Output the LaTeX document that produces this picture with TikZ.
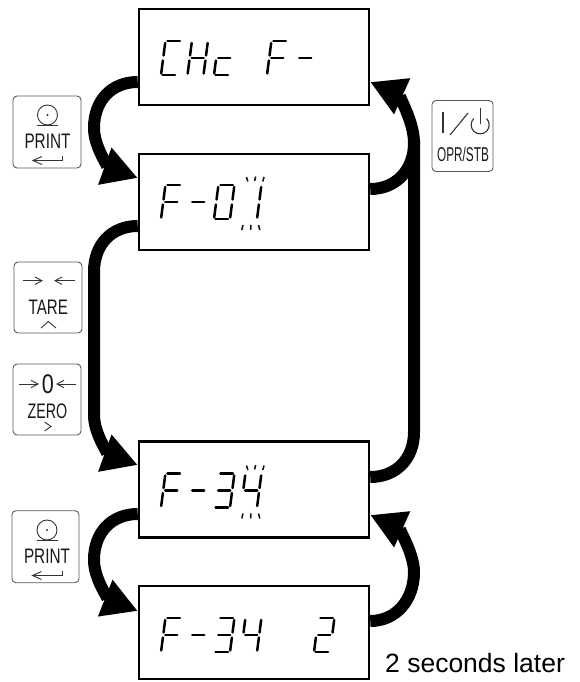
\documentclass[tikz,border=0pt]{standalone}
\usepackage{fontspec}
\setmainfont{Liberation Sans}
\usetikzlibrary{arrows.meta}
\tikzset{
  dispbox/.style={draw=black,line width=2.5pt,fill=white,minimum width=230pt,inner sep=0pt},
  keybox/.style={draw=black!65,line width=.9pt,rounded corners=4pt,inner sep=0pt,fill=white},
  flow/.style={line width=12pt,draw=black,-{Triangle[length=35pt,width=37pt]}},
  flowplain/.style={line width=12pt,draw=black},
  segline/.style={line width=2.5pt,line cap=round,draw=black},
  tick/.style={line width=1.6pt,draw=black!90},
  keyline/.style={line width=.9pt,draw=black!80},
  keytext/.style={font=\fontsize{21}{21}\selectfont,text=black!90,inner sep=0pt}
}
\newcommand\segA{\draw[segline] (2,-34)--(14.5,-34);}
\newcommand\segB{\draw[segline] (16,-32)--(16,-19.5);}
\newcommand\segC{\draw[segline] (16,-14.5)--(16,-1.5);}
\newcommand\segD{\draw[segline] (1.5,0)--(14,0);}
\newcommand\segE{\draw[segline] (0,-1.5)--(0,-14.5);}
\newcommand\segF{\draw[segline] (0,-19.5)--(0,-32);}
\newcommand\segG{\draw[segline] (2,-17)--(14,-17);}
% #1 x, #2 baseline y, #3 segments
\newcommand\digit[3]{\begin{scope}[shift={(#1,#2)},xslant=.13]#3\end{scope}}
% blinking ticks round the last digit, #1 x offset, #2 top y
\newcommand\blink[2]{\begin{scope}[shift={(#1,#2)}]
  \draw[tick] (246.5,-8)--(247.8,-3.5);
  \draw[tick] (255.6,-8.5)--(254.6,-4);
  \draw[tick] (264,-8)--(262.8,-3.5);
  \draw[tick] (243,40)--(241.8,45);
  \draw[tick] (251,40)--(250.6,45);
  \draw[tick] (258.5,40)--(259.8,45);
\end{scope}}
\begin{document}
\begin{tikzpicture}[x=1pt,y=-1pt]
\useasboundingbox (0,0) rectangle (580,682);
% display boxes
\node[dispbox,minimum height=96pt] (b1) at (254,57) {};
\node[dispbox,minimum height=96pt] (b2) at (254,202) {};
\node[dispbox,minimum height=96pt] (b3) at (254,489.5) {};
\node[dispbox,minimum height=93pt] (b4) at (254,632.5) {};
% left connectors
\draw[flow] ([yshift=-25pt]b1.west) .. controls (112,82) and (94,100) .. (94,128)
  .. controls (94,148) and (110,168) .. ([yshift=24pt]b2.west);
\draw[flow] ([yshift=-24pt]b2.west) .. controls (112,226) and (94,244) .. (94,272) -- (94,415)
  .. controls (94,435) and (110,455) .. ([yshift=24.5pt]b3.west);
\draw[flow] ([yshift=-24.5pt]b3.west) .. controls (112,514) and (94,532) .. (94,560)
  .. controls (94,580) and (110,600) .. ([yshift=21.5pt]b4.west);
% right connectors
\draw[flowplain] ([yshift=12.5pt]b3.east) .. controls (396,477) and (414,459) .. (414,432) -- (414,140);
\draw[flow] ([yshift=13pt]b2.east) .. controls (396,189) and (414,170) .. (414,143)
  .. controls (414,120) and (397,94) .. ([yshift=-25pt]b1.east);
\draw[flow] ([yshift=11.5pt]b4.east) .. controls (396,621) and (414,600) .. (414,572)
  .. controls (414,552) and (397,527) .. ([yshift=-25.5pt]b3.east);
% display 1: CHc F-
\digit{161}{75}{\segA\segD\segE\segF}
\digit{187.5}{75}{\segB\segC\segE\segF\segG}
\digit{214}{75}{\segD\segE\segG}
\digit{267}{75}{\segA\segE\segF\segG}
\digit{295}{75}{\segG}
% display 2: F-01
\digit{161}{219}{\segA\segE\segF\segG}
\digit{188}{219}{\segG}
\digit{214}{219}{\segA\segB\segC\segD\segE\segF}
\digit{241}{219}{\segB\segC}
\blink{0}{185}
% display 3: F-34
\digit{161}{507.5}{\segA\segE\segF\segG}
\digit{188}{507.5}{\segG}
\digit{214}{507.5}{\segA\segB\segC\segD\segG}
\digit{241}{507.5}{\segB\segC\segF\segG}
\blink{0}{473.5}
% display 4: F-34 2
\digit{161}{652}{\segA\segE\segF\segG}
\digit{188}{652}{\segG}
\digit{214}{652}{\segA\segB\segC\segD\segG}
\digit{241}{652}{\segB\segC\segF\segG}
\digit{314}{652}{\segA\segB\segD\segE\segG}
% PRINT key 1
\node[keybox,minimum width=68pt,minimum height=72pt] (k1) at (47,132) {};
\draw[keyline] (47.5,115) circle (10pt);
\fill[black!80] (47.5,115) circle (1.2pt);
\draw[keyline] (37,125)--(58,125);
\node[keytext,xscale=.73] (k1t) at (47.5,141.5) {PRINT};
\draw[keyline] (62.5,156)--(62.5,160.5)--(33,160.5);
\draw[keyline] (42,156.5)--(33,160.5)--(42,164.5);
% TARE key
\node[keybox,minimum width=68pt,minimum height=71pt] (k2) at (48,297.5) {};
\draw[keyline] (23,280.7)--(42,280.7); \draw[keyline] (35,277)--(42,280.7)--(35,284.4);
\draw[keyline] (55,280.7)--(75,280.7); \draw[keyline] (62,277)--(55,280.7)--(62,284.4);
\node[keytext,xscale=.72] (k2t) at (48.3,307) {TARE};
\draw[keyline] (41,328)--(48.3,321.5)--(56,328);
% ZERO key
\node[keybox,minimum width=68pt,minimum height=71pt] (k3) at (47,399.5) {};
\draw[keyline] (19,384)--(38,384); \draw[keyline] (31,380.3)--(38,384)--(31,387.7);
\draw[keyline] (57,384)--(76,384); \draw[keyline] (64,380.3)--(57,384)--(64,387.7);
\node[keytext,xscale=.8,font=\fontsize{27}{27}\selectfont] (k3z) at (48,384) {0};
\node[keytext,xscale=.68] (k3t) at (47.5,411.7) {ZERO};
\draw[keyline] (44.5,422)--(51,426.5)--(44.5,431);
% PRINT key 2
\node[keybox,minimum width=67pt,minimum height=72pt] (k4) at (45.5,546.7) {};
\draw[keyline] (47,530) circle (10pt);
\fill[black!80] (47,530) circle (1.2pt);
\draw[keyline] (36.5,540)--(57.5,540);
\node[keytext,xscale=.73] (k4t) at (47,556.5) {PRINT};
\draw[keyline] (62,571)--(62,575.5)--(32.5,575.5);
\draw[keyline] (41.5,571.5)--(32.5,575.5)--(41.5,579.5);
% OPR/STB key
\node[keybox,minimum width=61pt,minimum height=71pt] (k5) at (462.5,136) {};
\draw[keyline,line width=1.1pt] (443,112)--(443,133);
\draw[keyline,line width=1.1pt] (450,135)--(468,113);
\draw[keyline,line width=1.1pt] (473.8,118.5) arc[start angle=135,end angle=405,radius=9pt];
\draw[keyline,line width=1.1pt] (480.2,108)--(480.2,124);
\node[keytext,xscale=.59,font=\fontsize{20}{20}\selectfont] (k5t) at (463,154.5) {OPR/STB};
% label
\node[anchor=base west,inner sep=0pt,font=\fontsize{26.5}{26.5}\selectfont] (lab) at (385,672.5) {2 seconds later};
\end{tikzpicture}
\end{document}
